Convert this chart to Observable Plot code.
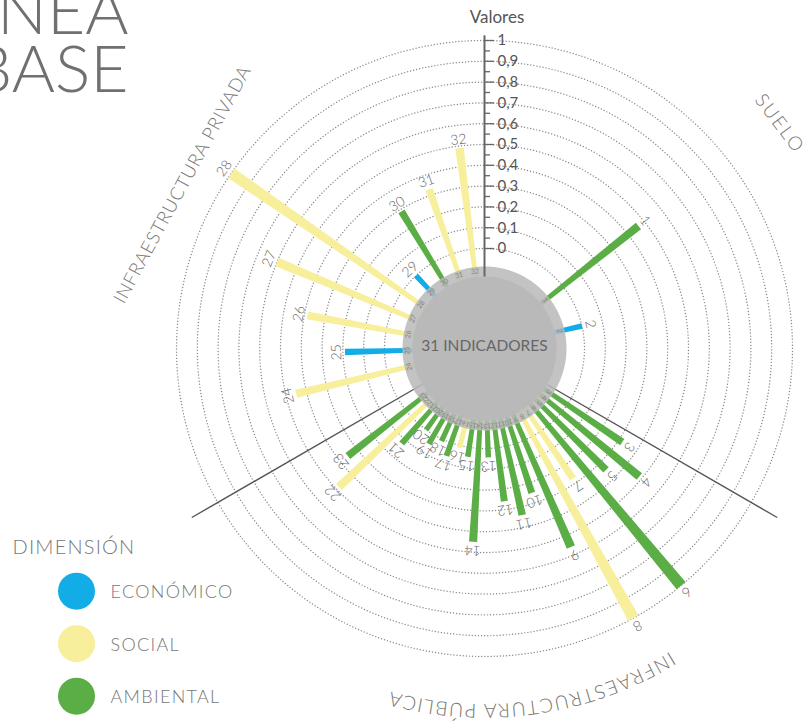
<!DOCTYPE html>
<html>
<head>
<meta charset="utf-8">
<script src="https://cdn.jsdelivr.net/npm/d3@7"></script>
<script src="https://cdn.jsdelivr.net/npm/@observablehq/plot@0.6"></script>
<style>
  body { margin: 0; background: #fff; font-family: Lato, "Open Sans", sans-serif; }
  #wrap { position: relative; width: 812px; height: 725px; overflow: hidden; }
</style>
</head>
<body>
<div id="wrap"></div>
<script>
// ---------------- DATA ----------------
const indicators = [1,2,3,4,5,6,7,8,9,10,11,12,13,14,15,16,17,18,19,20,21,22,23,24,25,26,27,28,29,30,31,32];
const values = [0.465, 0.0, 0.32, 0.485, 0.345, 1.0, 0.275, 1.0, 0.56, 0.25, 0.34, 0.26, 0.043, 0.45, 0.046, 0.012,
                0.067, 0.01, 0.05, 0.0, 0.125, 0.485, 0.355, 0.45, 0.19, 0.385, 0.6, 1.0, 0.0, 0.29, 0.33, 0.49];
const dimensions = ["AMBIENTAL","ECONÓMICO","AMBIENTAL","AMBIENTAL","AMBIENTAL","AMBIENTAL","SOCIAL","SOCIAL",
                    "AMBIENTAL","AMBIENTAL","AMBIENTAL","AMBIENTAL","AMBIENTAL","AMBIENTAL","AMBIENTAL","SOCIAL",
                    "AMBIENTAL","AMBIENTAL","AMBIENTAL","AMBIENTAL","AMBIENTAL","SOCIAL","AMBIENTAL","SOCIAL",
                    "ECONÓMICO","SOCIAL","SOCIAL","SOCIAL","ECONÓMICO","AMBIENTAL","SOCIAL","SOCIAL"];
const sectors = ["SUELO", "INFRAESTRUCTURA PÚBLICA", "INFRAESTRUCTURA PRIVADA"];
const sectorOfIndicator = [0,0,1,1,1,1,1,1,1,1,1,1,1,1,1,1,1,1,1,1,1,1,1,2,2,2,2,2,2,2,2,2];
const dimensionNames = ["ECONÓMICO", "SOCIAL", "AMBIENTAL"];
const dimensionColors = ["#12ade6", "#f7ef9c", "#5bad45"];
const axisTicks = [0, 0.1, 0.2, 0.3, 0.4, 0.5, 0.6, 0.7, 0.8, 0.9, 1];
const axisLabels = ["0", "0,1", "0,2", "0,3", "0,4", "0,5", "0,6", "0,7", "0,8", "0,9", "1"];
const centerLabel = "31 INDICADORES";
const axisTitle = "Valores";
const legendTitle = "DIMENSIÓN";
const titleText = "LÍNEA\nBASE";

// ---------------- LAYOUT ----------------
const W = 812, H = 725;
const CX = 484, CY = 348, K = 208;            // px per value unit
const R0 = 100 / K;                             // radius of value 0
const HOLE = 72 / K, RING = 82 / K, RING_LABEL = 77.5 / K;
const DIVIDER_END = 338 / K, AXIS_END = R0 + 1.025;
const sectorLayout = [{first: 51.5, step: 25.5}, {first: 124.2, step: 5.38}, {first: 256.5, step: 12.05}];
const sectorLabelLayout = [
  {angle: 52.7, r: 371 / K, size: 19, spacing: 2},
  {start: 148.5, end: 215, r: 356 / K, size: 19.5, spacing: 1.3},
  {angle: 298.5, r: 343.6 / K, size: 18.5, spacing: 0.8}
];
const dividerAngles = [120, 240];
// page-pixel helpers for title / legend placement
const ux = px => (px - CX) / K, uy = py => (py - CY) / K;
const titleLayout = {right: 128, lastBaseline: 91.7, size: 66, lineHeight: 0.888};
const legendLayout = {titleX: 12, titleBaseline: 553, dotX: 76, firstY: 590.7, gap: 52.5, dotR: 18.5, textX: 110};

const rad = a => a * Math.PI / 180;
const polar = (u, a) => [u * Math.sin(rad(a)), -u * Math.cos(rad(a))];

const counter = [0, 0, 0];
const bars = indicators.map((id, i) => {
  const s = sectorOfIndicator[i];
  const angle = sectorLayout[s].first + counter[s]++ * sectorLayout[s].step;
  return {id, value: values[i], dim: dimensions[i], angle};
});

const halfWidth = u => (1.2 + 0.015 * u * K) / K;
const barPts = bars.flatMap(b => {
  const a = rad(b.angle);
  const dx = Math.sin(a), dy = -Math.cos(a), px = Math.cos(a), py = Math.sin(a);
  const u1 = HOLE, u2 = R0 + b.value, h1 = halfWidth(u1), h2 = halfWidth(u2);
  return [[u1, h1], [u2, h2], [u2, -h2], [u1, -h1]].map(([u, h]) =>
    ({id: b.id, dim: b.dim, x: u * dx + h * px, y: u * dy + h * py}));
});

const circle = (u, key) => d3.range(0, 361, 1).map(a => {
  const [x, y] = polar(u, a);
  return {key, x, y};
});
const tickSteps = d3.range(0, 21).map(i => i / 20);
const legendItems = dimensionNames.map((name, i) => ({name, color: dimensionColors[i], i}));

const chart = Plot.plot({
  width: W, height: H, margin: 0,
  x: {type: "linear", domain: [-CX / K, (W - CX) / K], range: [0, W], axis: null},
  y: {type: "linear", domain: [-CY / K, (H - CY) / K], range: [0, H], axis: null},
  style: {fontFamily: "Lato, 'Open Sans', sans-serif", background: "transparent", overflow: "hidden"},
  marks: [
    Plot.line(axisTicks.flatMap(v => circle(R0 + v, v)),
      {x: "x", y: "y", z: "key", stroke: "#8a8a8a", strokeWidth: 1.45, strokeDasharray: "0,3.1", strokeLinecap: "round"}),
    ...dimensionNames.map((dim, j) =>
      Plot.line(barPts.filter(d => d.dim === dim), {x: "x", y: "y", z: "id", fill: dimensionColors[j], stroke: "none"})),
    Plot.link(dividerAngles, {
      x1: a => polar(HOLE, a)[0], y1: a => polar(HOLE, a)[1],
      x2: a => polar(DIVIDER_END, a)[0], y2: a => polar(DIVIDER_END, a)[1],
      stroke: "#555", strokeWidth: 1.4
    }),
    Plot.line(circle(RING, "ring"), {x: "x", y: "y", fill: "#b9b9b9", fillOpacity: 0.86, stroke: "none"}),
    Plot.line(circle(HOLE, "hole"), {x: "x", y: "y", fill: "#b9b9b9", stroke: "none"}),
    Plot.text(bars, {
      x: d => polar(RING_LABEL, d.angle)[0], y: d => polar(RING_LABEL, d.angle)[1],
      text: d => String(d.id), rotate: "angle", fontSize: 7, fill: "#858585"
    }),
    Plot.text(bars, {
      x: d => polar(R0 + d.value + 8.5 / K, d.angle)[0], y: d => polar(R0 + d.value + 8.5 / K, d.angle)[1],
      text: d => String(d.id), rotate: "angle", fontSize: 14, fill: "#666", fontWeight: 300
    }),
    Plot.text([centerLabel], {x: () => 0, y: () => -0.01, text: d => d, fontSize: 15.5, fill: "#666"}),
    // value axis
    Plot.link([0], {x1: () => 0, y1: () => -HOLE, x2: () => 0, y2: () => -AXIS_END, stroke: "#666", strokeWidth: 2}),
    Plot.ruleY(tickSteps, {y: v => -(R0 + v), x1: () => 0, x2: (v, i) => (i % 2 === 0 ? 10 : 6) / K,
      stroke: "#666", strokeWidth: 1.3}),
    Plot.text(axisTicks, {x: () => 13 / K, y: v => -(R0 + v), text: (v, i) => axisLabels[i],
      textAnchor: "start", fontSize: 15, fill: "#555"}),
    Plot.text([axisTitle], {x: () => 12.5 / K, y: () => -(R0 + 1 + 0.082), text: d => d,
      lineAnchor: "bottom", fontSize: 17, fill: "#555"}),
    // straight sector labels
    Plot.text([0, 2], {
      x: s => polar(sectorLabelLayout[s].r, sectorLabelLayout[s].angle)[0],
      y: s => polar(sectorLabelLayout[s].r, sectorLabelLayout[s].angle)[1],
      text: s => sectors[s], rotate: s => sectorLabelLayout[s].angle,
      fontSize: 18, fill: "#777", fontWeight: 300
    }),
    // title
    Plot.text([titleText], {x: () => ux(titleLayout.right), y: () => uy(titleLayout.lastBaseline),
      text: d => d, textAnchor: "end", lineAnchor: "bottom", lineHeight: titleLayout.lineHeight,
      fontSize: titleLayout.size, fontWeight: 300, fill: "#707070"}),
    // legend
    Plot.text([legendTitle], {x: () => ux(legendLayout.titleX), y: () => uy(legendLayout.titleBaseline),
      text: d => d, textAnchor: "start", lineAnchor: "bottom", fontSize: 20, fontWeight: 300, fill: "#777"}),
    Plot.dot(legendItems, {x: () => ux(legendLayout.dotX), y: d => uy(legendLayout.firstY + d.i * legendLayout.gap),
      r: legendLayout.dotR, fill: d => d.color, stroke: "none"}),
    Plot.text(legendItems, {x: () => ux(legendLayout.textX), y: d => uy(legendLayout.firstY + d.i * legendLayout.gap + 1.5),
      text: "name", textAnchor: "start", fontSize: 18, fontWeight: 300, fill: "#777"})
  ]
});
document.getElementById("wrap").appendChild(chart);

// letter spacing tweaks
const spacingOf = new Map([[sectors[0], sectorLabelLayout[0].spacing], [sectors[2], sectorLabelLayout[2].spacing],
  [legendTitle, 1.2], ...dimensionNames.map(n => [n, 1.3])]);
d3.select(chart).selectAll("text").each(function() {
  if (spacingOf.has(this.textContent)) d3.select(this).attr("letter-spacing", spacingOf.get(this.textContent));
  const s = sectors.indexOf(this.textContent);
  if (s >= 0) d3.select(this).attr("font-size", sectorLabelLayout[s].size);
});

// curved sector label along the circle
const sx = chart.scale && chart.scale("x"), sy = chart.scale && chart.scale("y");
const toPx = (x, y) => (sx && sx.apply) ? [sx.apply(x), sy.apply(y)] : [CX + x * K, CY + y * K];
const pub = sectorLabelLayout[1];
const [ax, ay] = toPx(...polar(pub.r, pub.start));
const [bx, by] = toPx(...polar(pub.r, pub.end));
const rp = toPx(pub.r, 0)[0] - toPx(0, 0)[0];
const svg = d3.select(chart);
svg.append("defs").append("path").attr("id", "pubArc")
  .attr("d", `M${ax},${ay} A${rp},${rp} 0 0 1 ${bx},${by}`);
svg.append("text")
  .attr("font-size", pub.size).attr("font-weight", 300).attr("fill", "#777")
  .attr("letter-spacing", pub.spacing).attr("text-anchor", "start")
  .attr("font-family", "Lato, 'Open Sans', sans-serif")
  .append("textPath").attr("href", "#pubArc").attr("startOffset", 0).attr("text-anchor", "start")
  .text(sectors[1]);
</script>
</body>
</html>
